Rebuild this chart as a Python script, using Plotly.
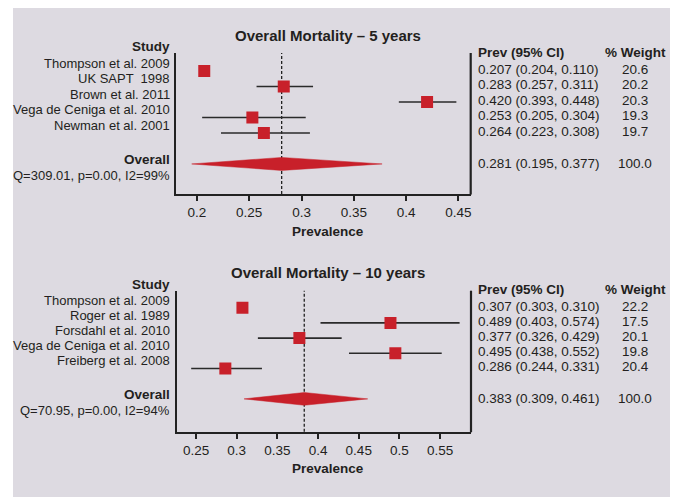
import plotly.graph_objects as go

# ---------------- data ----------------
studies_5 = ["Thompson et al. 2009", "UK SAPT  1998", "Brown et al. 2011",
             "Vega de Ceniga et al. 2010", "Newman et al. 2001"]
prev_5 = [0.207, 0.283, 0.420, 0.253, 0.264]
lo_5 = [0.204, 0.257, 0.393, 0.205, 0.223]
hi_5 = [0.110, 0.311, 0.448, 0.304, 0.308]
weight_5 = [20.6, 20.2, 20.3, 19.3, 19.7]
overall_5 = [0.281, 0.195, 0.377]
stats_5 = "Q=309.01, p=0.00, I2=99%"
ticks_5 = [0.2, 0.25, 0.3, 0.35, 0.4, 0.45]
ticklabels_5 = ["0.2", "0.25", "0.3", "0.35", "0.4", "0.45"]

studies_10 = ["Thompson et al. 2009", "Roger et al. 1989", "Forsdahl et al. 2010",
              "Vega de Ceniga et al. 2010", "Freiberg et al. 2008"]
prev_10 = [0.307, 0.489, 0.377, 0.495, 0.286]
lo_10 = [0.303, 0.403, 0.326, 0.438, 0.244]
hi_10 = [0.310, 0.574, 0.429, 0.552, 0.331]
weight_10 = [22.2, 17.5, 20.1, 19.8, 20.4]
overall_10 = [0.383, 0.309, 0.461]
stats_10 = "Q=70.95, p=0.00, I2=94%"
ticks_10 = [0.25, 0.3, 0.35, 0.4, 0.45, 0.5, 0.55]
ticklabels_10 = ["0.25", "0.3", "0.35", "0.4", "0.45", "0.5", "0.55"]

titles = ["Overall Mortality \u2013 5 years", "Overall Mortality \u2013 10 years"]

# ---------------- style ----------------
# the page body has an 8px default margin; size the figure to fill the rest of the window
OFF = 8
W, H = 680 - OFF, 497 - OFF
FONT = "Liberation Sans, Arial, Helvetica, sans-serif"
FS = 13.5
FS_LEFT = 13
TXT = "#231f20"
RED = "#c8202a"
BG = "#dddae1"

def px(x):
    return (x - OFF) / W

def py(y):
    return 1 - (y - OFF) / H

fig = go.Figure()

panels = [
    dict(studies=studies_5, prev=prev_5, lo=lo_5, hi=hi_5, w=weight_5, ov=overall_5,
         stats=stats_5, ticks=ticks_5, tl=ticklabels_5, title=titles[0],
         xdom=[px(176), px(470.7)], ydom=[py(194), py(53)],
         xrange=[0.18, 0.4617], yrange=[8.94, -0.16], xa="x", ya="y"),
    dict(studies=studies_10, prev=prev_10, lo=lo_10, hi=hi_10, w=weight_10, ov=overall_10,
         stats=stats_10, ticks=ticks_10, tl=ticklabels_10, title=titles[1],
         xdom=[px(176.7), px(471)], ydom=[py(431.7), py(290.7)],
         xrange=[0.2262, 0.588], yrange=[9.16, -0.12], xa="x2", ya="y2"),
]

shapes = [
    dict(type="rect", xref="paper", yref="paper", x0=px(13), x1=px(670), y0=0, y1=1,
         fillcolor=BG, line_width=0, layer="below"),
]
annotations = []

for i, p in enumerate(panels):
    xa, ya = p["xa"], p["ya"]
    n = len(p["studies"])
    rows = list(range(1, n + 1))
    orow = n + 2
    # whiskers
    wx, wy = [], []
    for r, l, h in zip(rows, p["lo"], p["hi"]):
        if l < h:
            wx += [l, h, None]
            wy += [r, r, None]
    fig.add_trace(go.Scatter(x=wx, y=wy, mode="lines", line=dict(color="#2a2a2a", width=1.6),
                             xaxis=xa, yaxis=ya, hoverinfo="skip", showlegend=False))
    # squares
    fig.add_trace(go.Scatter(x=p["prev"], y=rows, mode="markers",
                             marker=dict(symbol="square", size=12, color=RED, line_width=0),
                             xaxis=xa, yaxis=ya, showlegend=False))
    # diamond
    est, dl, dh = p["ov"]
    hh = 0.42
    fig.add_trace(go.Scatter(x=[dl, est, dh, est, dl], y=[orow, orow - hh, orow, orow + hh, orow],
                             mode="lines", fill="toself", fillcolor=RED, line=dict(color=RED, width=0.5),
                             xaxis=xa, yaxis=ya, showlegend=False))
    xref_dom = xa + " domain"
    yref_dom = ya + " domain"
    # dashed overall line
    shapes.append(dict(type="line", xref=xa, yref=yref_dom, x0=est, x1=est, y0=0, y1=1,
                       line=dict(color="#222", width=1.3, dash="3px,2px"), layer="below"))
    # right vertical line
    shapes.append(dict(type="line", xref=xref_dom, yref=yref_dom, x0=1, x1=1, y0=-0.004, y1=1,
                       line=dict(color="#222", width=2.2)))
    axsuffix = "" if i == 0 else "2"
    fig.update_layout(**{
        "xaxis" + axsuffix: dict(domain=p["xdom"], range=p["xrange"], anchor=ya,
                                 showline=True, linewidth=2.2, linecolor="#222",
                                 ticks="outside", ticklen=5, tickwidth=2, tickcolor="#222",
                                 tickvals=p["ticks"], ticktext=p["tl"], showgrid=False, zeroline=False,
                                 tickfont=dict(family=FONT, size=FS, color=TXT), fixedrange=True),
        "yaxis" + axsuffix: dict(domain=p["ydom"], range=p["yrange"], anchor=xa,
                                 showline=True, linewidth=2.2, linecolor="#222",
                                 showticklabels=False, ticks="", showgrid=False, zeroline=False,
                                 fixedrange=True),
    })

    def ann(text, x, y, xanchor, yshift=0, bold=False, size=FS, yref=ya):
        annotations.append(dict(text=("<b>%s</b>" % text) if bold else text, x=x, y=y,
                                xref="paper", yref=yref, xanchor=xanchor, yanchor="middle",
                                yshift=yshift, showarrow=False,
                                font=dict(family=FONT, size=size, color=TXT)))

    # titles and axis title
    ann(p["title"], px(328), 1, "center", yshift=18, bold=True, size=15, yref=yref_dom)
    ann("Prevalence", px(328), 0, "center", yshift=-37, bold=True, yref=yref_dom)
    # left labels
    ann("Study", px(171.5), 0, "right", yshift=8.5, bold=True)
    for r, s in zip(rows, p["studies"]):
        ann(s, px(171.5), r, "right", yshift=7.5, size=FS_LEFT)
    ann("Overall", px(171.5), orow, "right", yshift=4, bold=True)
    ann(p["stats"], px(171.5), orow, "right", yshift=-11.5, size=FS_LEFT)
    # right table
    ann("Prev (95% CI)", px(476), 0, "left", yshift=3, bold=True)
    ann("% Weight", px(635), 0, "center", yshift=3, bold=True)
    for r, v, l, h, w in zip(rows, p["prev"], p["lo"], p["hi"], p["w"]):
        ann("%.3f (%.3f, %.3f)" % (v, l, h), px(476), r, "left", yshift=1.5)
        ann("%.1f" % w, px(635), r, "center", yshift=1.5)
    ann("%.3f (%.3f, %.3f)" % (est, dl, dh), px(476), orow, "left", yshift=0)
    ann("100.0", px(635), orow, "center", yshift=0)

fig.update_layout(width=W, height=H, margin=dict(l=0, r=0, t=0, b=0),
                  paper_bgcolor="white", plot_bgcolor="rgba(0,0,0,0)",
                  shapes=shapes, annotations=annotations, showlegend=False,
                  font=dict(family=FONT, color=TXT))

fig.write_html("out.html")
